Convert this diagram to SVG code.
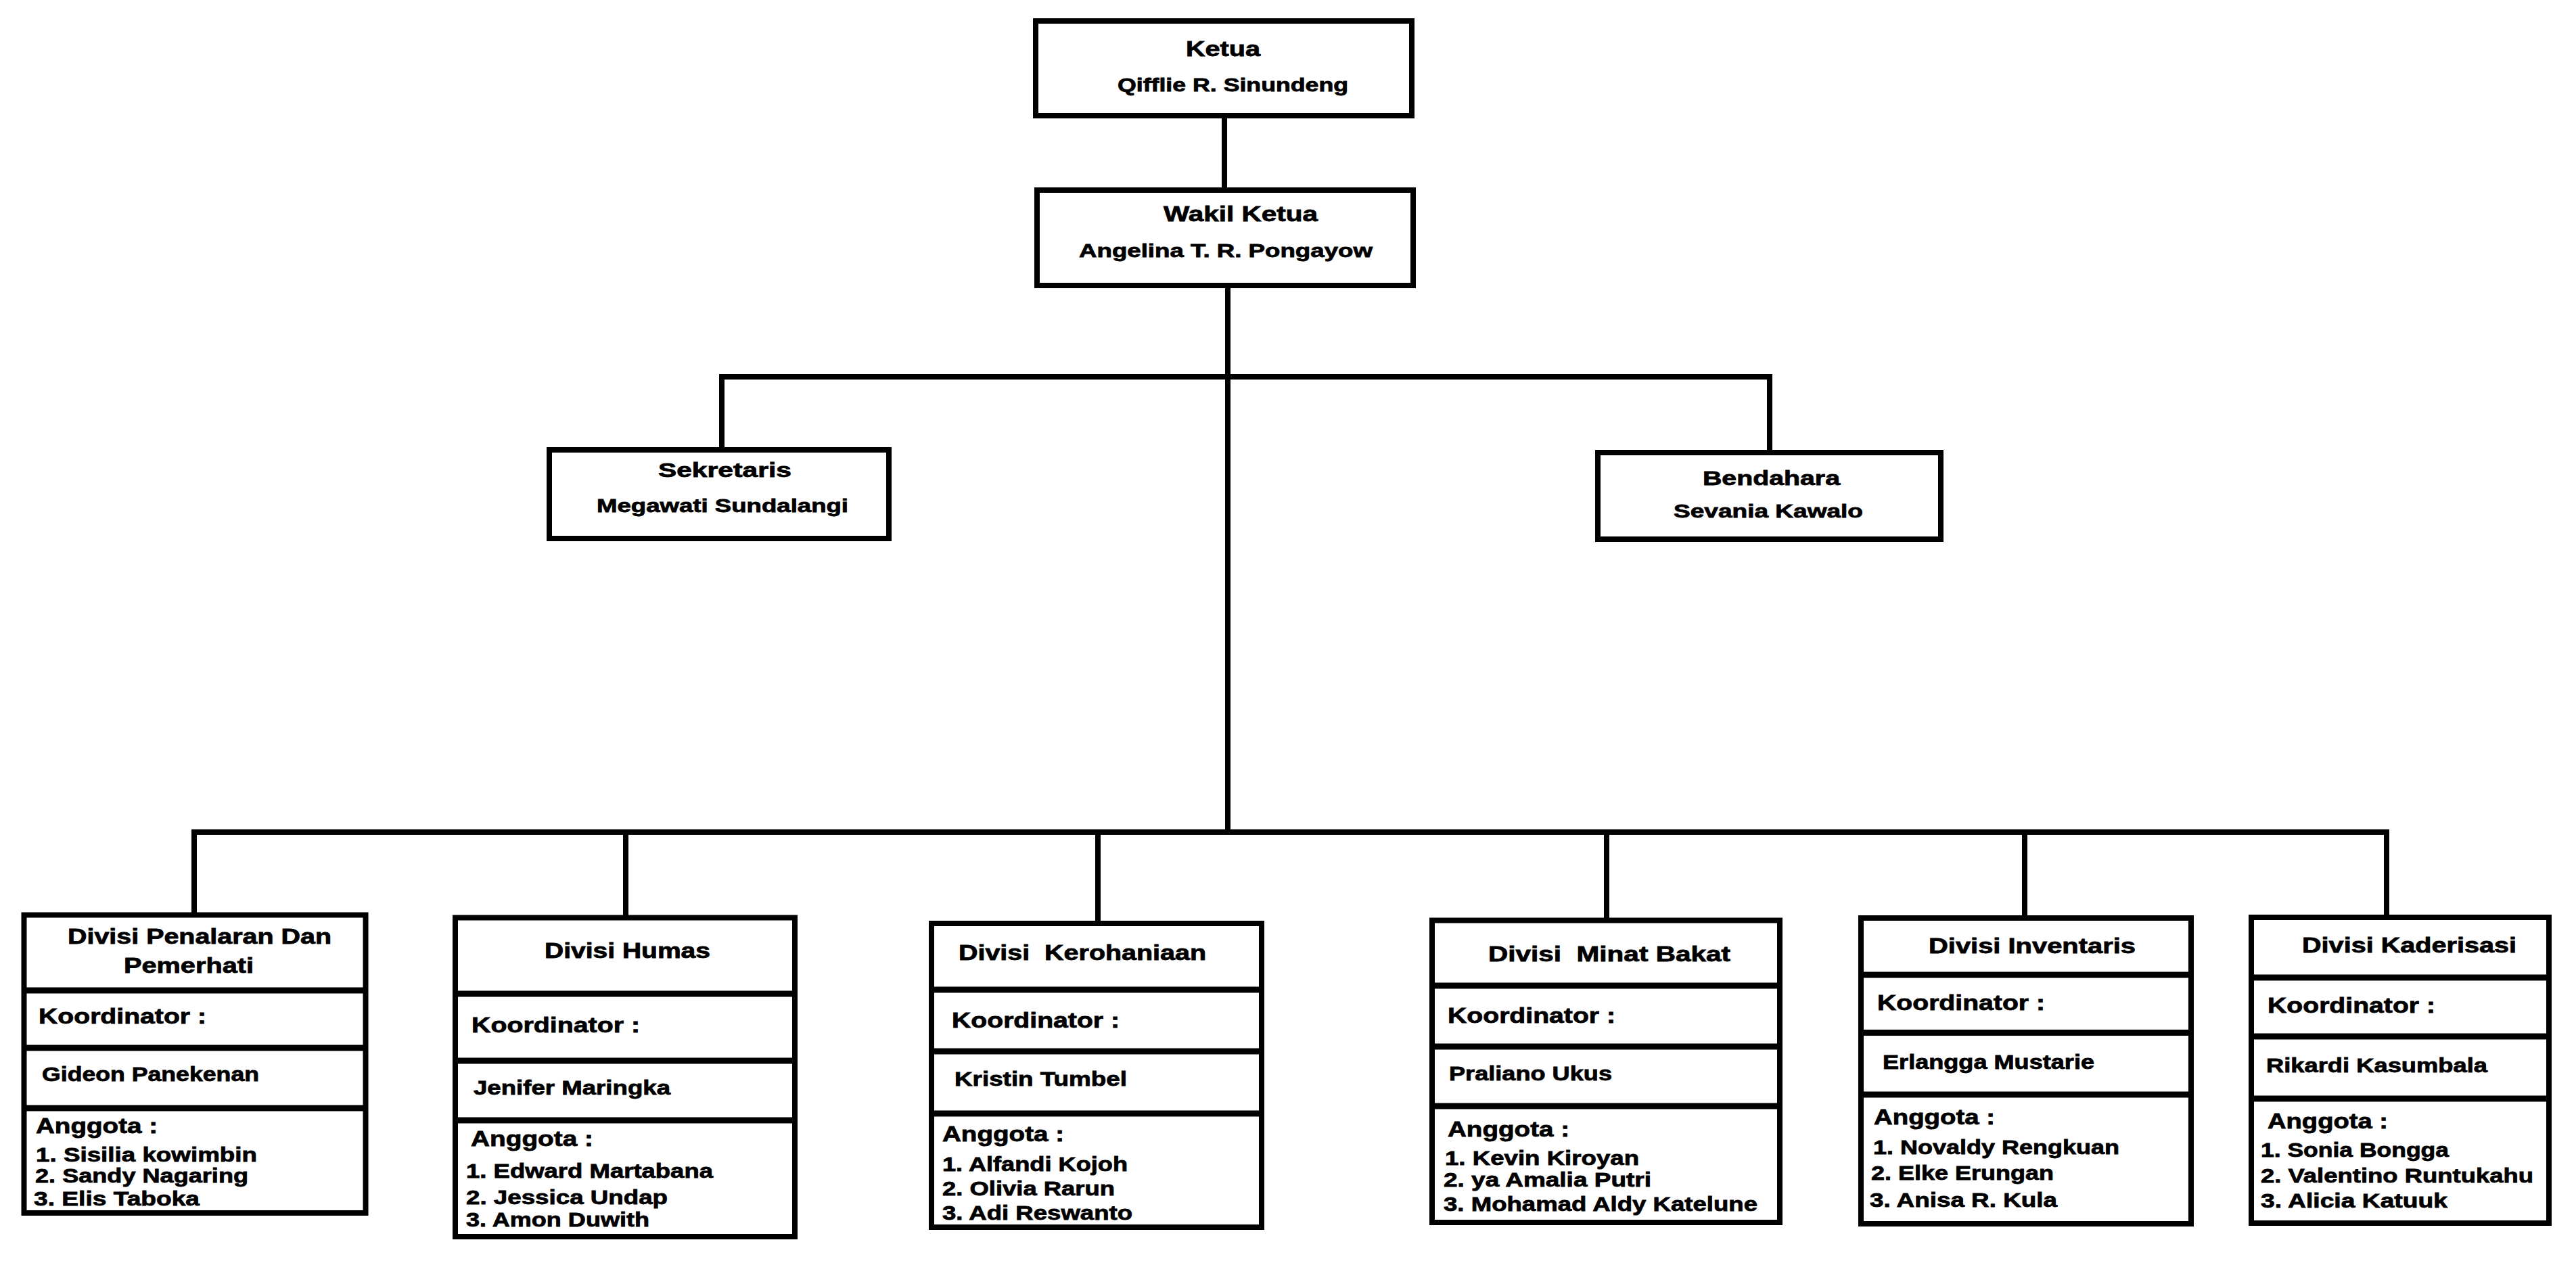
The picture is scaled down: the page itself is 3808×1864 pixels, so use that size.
<svg xmlns="http://www.w3.org/2000/svg" width="3808" height="1864" viewBox="0 0 3808 1864">
  <style>
    .box { fill: #ffffff; stroke: #000000; stroke-width: 8; }
    .div { stroke: #000000; stroke-width: 9; }
    .ln { fill: none; stroke: #000000; stroke-width: 8; stroke-linejoin: miter; }
    text { font-family: "Liberation Sans", Arial, sans-serif; font-weight: bold; fill: #000000; stroke: #000000; stroke-width: 0.8; }
    .h { font-size: 31px; }
    .k { font-size: 32px; }
    .t { font-size: 30px; }
    .s { font-size: 28px; }
  </style>
  <rect x="0" y="0" width="3808" height="1864" fill="#ffffff"/>

  <!-- connectors -->
  <g id="connectors">
    <path class="ln" d="M1810 175 V281"/>
    <path class="ln" d="M1815 426 V1230"/>
    <path class="ln" d="M1067 661 V557 H2616 V665"/>
    <path class="ln" d="M287 1352 V1230 H3528 V1352"/>
    <path class="ln" d="M925 1230 V1353"/>
    <path class="ln" d="M1623 1230 V1361"/>
    <path class="ln" d="M2375 1230 V1357"/>
    <path class="ln" d="M2993 1230 V1353"/>
  </g>

  <!-- board -->
  <g id="ketua">
    <rect class="box" x="1531" y="31" width="556" height="140"/>
    <text class="h" x="1753" y="83" textLength="110" lengthAdjust="spacingAndGlyphs">Ketua</text>
    <text class="s" x="1652" y="135" textLength="341" lengthAdjust="spacingAndGlyphs">Qifflie R. Sinundeng</text>
  </g>
  <g id="wakil-ketua">
    <rect class="box" x="1533" y="281" width="556" height="141"/>
    <text class="h" x="1720" y="327" textLength="228" lengthAdjust="spacingAndGlyphs">Wakil Ketua</text>
    <text class="s" x="1595" y="380" textLength="434" lengthAdjust="spacingAndGlyphs">Angelina T. R. Pongayow</text>
  </g>
  <g id="sekretaris">
    <rect class="box" x="812" y="665" width="502" height="131"/>
    <text class="t" x="973" y="705" textLength="197" lengthAdjust="spacingAndGlyphs">Sekretaris</text>
    <text class="s" x="882" y="757" textLength="372" lengthAdjust="spacingAndGlyphs">Megawati Sundalangi</text>
  </g>
  <g id="bendahara">
    <rect class="box" x="2362" y="669" width="507" height="128"/>
    <text class="t" x="2517" y="717" textLength="203" lengthAdjust="spacingAndGlyphs">Bendahara</text>
    <text class="s" x="2474" y="765" textLength="280" lengthAdjust="spacingAndGlyphs">Sevania Kawalo</text>
  </g>

  <!-- divisions -->
  <g id="divisi-penalaran">
    <rect class="box" x="35.5" y="1352.5" width="505" height="440.5"/>
    <line class="div" x1="35.5" y1="1464" x2="540.5" y2="1464"/>
    <line class="div" x1="35.5" y1="1549" x2="540.5" y2="1549"/>
    <line class="div" x1="35.5" y1="1638" x2="540.5" y2="1638"/>
    <text class="h" x="100" y="1395" textLength="390" lengthAdjust="spacingAndGlyphs">Divisi Penalaran Dan</text>
    <text class="h" x="183" y="1438" textLength="192" lengthAdjust="spacingAndGlyphs">Pemerhati</text>
    <text class="k" x="57" y="1513" textLength="248" lengthAdjust="spacingAndGlyphs">Koordinator :</text>
    <text class="t" x="62" y="1598" textLength="321" lengthAdjust="spacingAndGlyphs">Gideon Panekenan</text>
    <text class="k" x="53" y="1675" textLength="180" lengthAdjust="spacingAndGlyphs">Anggota :</text>
    <text class="t" x="53" y="1717" textLength="327" lengthAdjust="spacingAndGlyphs">1. Sisilia kowimbin</text>
    <text class="t" x="52" y="1748" textLength="315" lengthAdjust="spacingAndGlyphs">2. Sandy Nagaring</text>
    <text class="t" x="50" y="1782" textLength="245" lengthAdjust="spacingAndGlyphs">3. Elis Taboka</text>
  </g>

  <g id="divisi-humas">
    <rect class="box" x="673" y="1356.5" width="502" height="471.5"/>
    <line class="div" x1="673" y1="1469" x2="1175" y2="1469"/>
    <line class="div" x1="673" y1="1568" x2="1175" y2="1568"/>
    <line class="div" x1="673" y1="1656" x2="1175" y2="1656"/>
    <text class="h" x="805" y="1416" textLength="245" lengthAdjust="spacingAndGlyphs">Divisi Humas</text>
    <text class="k" x="697" y="1526" textLength="249" lengthAdjust="spacingAndGlyphs">Koordinator :</text>
    <text class="t" x="700" y="1618" textLength="291" lengthAdjust="spacingAndGlyphs">Jenifer Maringka</text>
    <text class="k" x="696" y="1694" textLength="181" lengthAdjust="spacingAndGlyphs">Anggota :</text>
    <text class="t" x="689" y="1741" textLength="365" lengthAdjust="spacingAndGlyphs">1. Edward Martabana</text>
    <text class="t" x="689" y="1780" textLength="298" lengthAdjust="spacingAndGlyphs">2. Jessica Undap</text>
    <text class="t" x="689" y="1813" textLength="271" lengthAdjust="spacingAndGlyphs">3. Amon Duwith</text>
  </g>

  <g id="divisi-kerohaniaan">
    <rect class="box" x="1377" y="1365" width="488" height="449"/>
    <line class="div" x1="1377" y1="1463" x2="1865" y2="1463"/>
    <line class="div" x1="1377" y1="1554" x2="1865" y2="1554"/>
    <line class="div" x1="1377" y1="1646" x2="1865" y2="1646"/>
    <text class="h" x="1417" y="1419" textLength="366" lengthAdjust="spacingAndGlyphs" xml:space="preserve">Divisi  Kerohaniaan</text>
    <text class="k" x="1407" y="1519" textLength="248" lengthAdjust="spacingAndGlyphs">Koordinator :</text>
    <text class="t" x="1411" y="1605" textLength="255" lengthAdjust="spacingAndGlyphs">Kristin Tumbel</text>
    <text class="k" x="1393" y="1687" textLength="180" lengthAdjust="spacingAndGlyphs">Anggota :</text>
    <text class="t" x="1393" y="1731" textLength="274" lengthAdjust="spacingAndGlyphs">1. Alfandi Kojoh</text>
    <text class="t" x="1393" y="1767" textLength="255" lengthAdjust="spacingAndGlyphs">2. Olivia Rarun</text>
    <text class="t" x="1393" y="1803" textLength="281" lengthAdjust="spacingAndGlyphs">3. Adi Reswanto</text>
  </g>

  <g id="divisi-minat-bakat">
    <rect class="box" x="2117" y="1360.5" width="514" height="446.5"/>
    <line class="div" x1="2117" y1="1457" x2="2631" y2="1457"/>
    <line class="div" x1="2117" y1="1547" x2="2631" y2="1547"/>
    <line class="div" x1="2117" y1="1635" x2="2631" y2="1635"/>
    <text class="h" x="2200" y="1421" textLength="358" lengthAdjust="spacingAndGlyphs" xml:space="preserve">Divisi  Minat Bakat</text>
    <text class="k" x="2140" y="1512" textLength="248" lengthAdjust="spacingAndGlyphs">Koordinator :</text>
    <text class="t" x="2142" y="1597" textLength="241" lengthAdjust="spacingAndGlyphs">Praliano Ukus</text>
    <text class="k" x="2140" y="1680" textLength="180" lengthAdjust="spacingAndGlyphs">Anggota :</text>
    <text class="t" x="2136" y="1722" textLength="287" lengthAdjust="spacingAndGlyphs">1. Kevin Kiroyan</text>
    <text class="t" x="2134" y="1754" textLength="307" lengthAdjust="spacingAndGlyphs">2. ya Amalia Putri</text>
    <text class="t" x="2134" y="1790" textLength="464" lengthAdjust="spacingAndGlyphs">3. Mohamad Aldy Katelune</text>
  </g>

  <g id="divisi-inventaris">
    <rect class="box" x="2751" y="1357" width="488" height="452"/>
    <line class="div" x1="2751" y1="1441" x2="3239" y2="1441"/>
    <line class="div" x1="2751" y1="1526.5" x2="3239" y2="1526.5"/>
    <line class="div" x1="2751" y1="1618" x2="3239" y2="1618"/>
    <text class="h" x="2851" y="1409" textLength="306" lengthAdjust="spacingAndGlyphs">Divisi Inventaris</text>
    <text class="k" x="2775" y="1493" textLength="248" lengthAdjust="spacingAndGlyphs">Koordinator :</text>
    <text class="t" x="2783" y="1580" textLength="313" lengthAdjust="spacingAndGlyphs">Erlangga Mustarie</text>
    <text class="k" x="2770" y="1662" textLength="179" lengthAdjust="spacingAndGlyphs">Anggota :</text>
    <text class="t" x="2769" y="1706" textLength="364" lengthAdjust="spacingAndGlyphs">1. Novaldy Rengkuan</text>
    <text class="t" x="2766" y="1744" textLength="270" lengthAdjust="spacingAndGlyphs">2. Elke Erungan</text>
    <text class="t" x="2764" y="1784" textLength="277" lengthAdjust="spacingAndGlyphs">3. Anisa R. Kula</text>
  </g>

  <g id="divisi-kaderisasi">
    <rect class="box" x="3328" y="1356" width="440" height="452"/>
    <line class="div" x1="3328" y1="1445" x2="3768" y2="1445"/>
    <line class="div" x1="3328" y1="1532" x2="3768" y2="1532"/>
    <line class="div" x1="3328" y1="1624" x2="3768" y2="1624"/>
    <text class="h" x="3403" y="1408" textLength="317" lengthAdjust="spacingAndGlyphs">Divisi Kaderisasi</text>
    <text class="k" x="3352" y="1497" textLength="248" lengthAdjust="spacingAndGlyphs">Koordinator :</text>
    <text class="t" x="3350" y="1585" textLength="327" lengthAdjust="spacingAndGlyphs">Rikardi Kasumbala</text>
    <text class="k" x="3352" y="1668" textLength="178" lengthAdjust="spacingAndGlyphs">Anggota :</text>
    <text class="t" x="3342" y="1710" textLength="278" lengthAdjust="spacingAndGlyphs">1. Sonia Bongga</text>
    <text class="t" x="3342" y="1748" textLength="403" lengthAdjust="spacingAndGlyphs">2. Valentino Runtukahu</text>
    <text class="t" x="3342" y="1785" textLength="276" lengthAdjust="spacingAndGlyphs">3. Alicia Katuuk</text>
  </g>
</svg>
